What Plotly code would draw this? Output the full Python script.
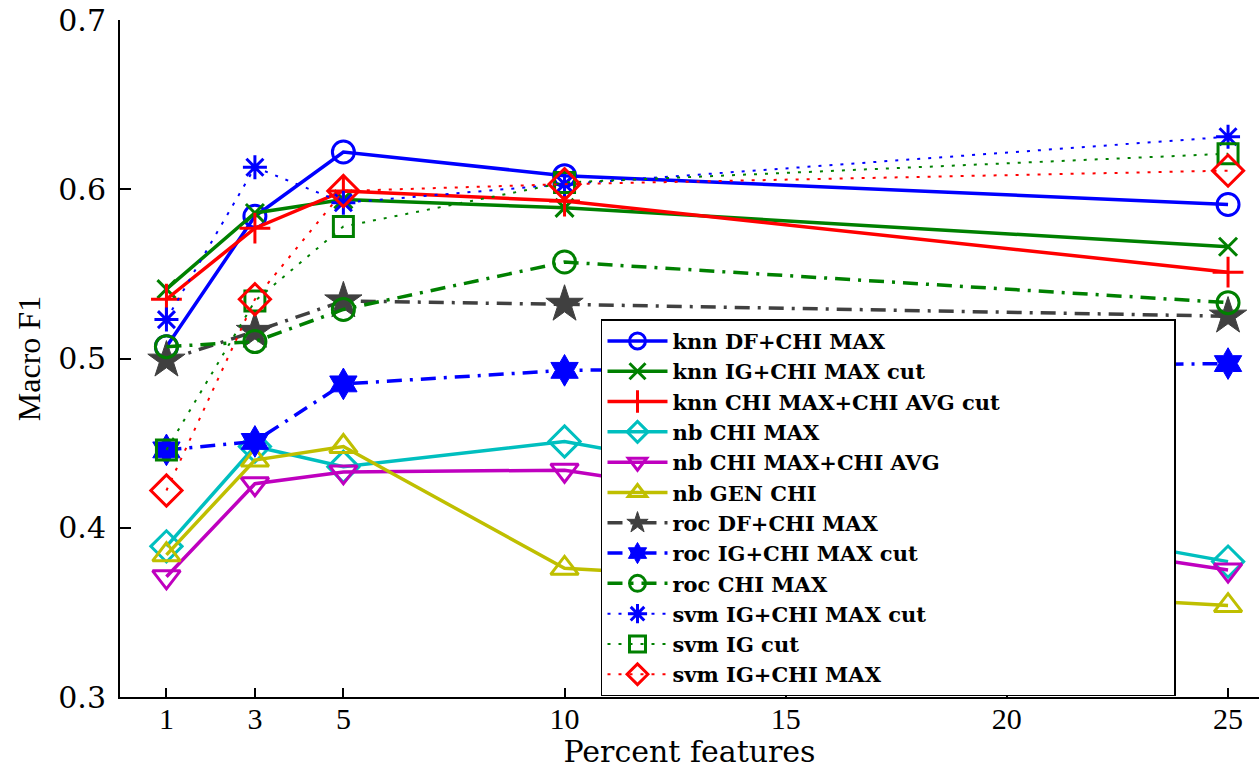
import plotly.graph_objects as go

# ---- data ----
x_percent = [1, 3, 5, 10, 25]

knn_df_chi_max = [0.507, 0.584, 0.622, 0.608, 0.591]
knn_ig_chi_max_cut = [0.541, 0.586, 0.594, 0.589, 0.566]
knn_chi_max_chi_avg_cut = [0.535, 0.577, 0.599, 0.593, 0.551]
nb_chi_max = [0.389, 0.448, 0.436, 0.451, 0.380]
nb_chi_max_chi_avg = [0.371, 0.426, 0.433, 0.434, 0.375]
nb_gen_chi = [0.384, 0.440, 0.448, 0.376, 0.354]
roc_df_chi_max = [0.499, 0.516, 0.534, 0.532, 0.525]
roc_ig_chi_max_cut = [0.446, 0.451, 0.485, 0.493, 0.497]
roc_chi_max = [0.507, 0.510, 0.529, 0.557, 0.533]
svm_ig_chi_max_cut = [0.523, 0.613, 0.592, 0.603, 0.631]
svm_ig_cut = [0.446, 0.534, 0.578, 0.604, 0.621]
svm_ig_chi_max = [0.422, 0.535, 0.599, 0.603, 0.611]

x_ticks = [1, 3, 5, 10, 15, 20, 25]
y_ticks = [0.3, 0.4, 0.5, 0.6, 0.7]
y_tick_labels = ["0.3", "0.4", "0.5", "0.6", "0.7"]

BLUE = "#0000FF"
GREEN = "#008000"
RED = "#FF0000"
CYAN = "#00BFBF"
MAGENTA = "#BF00BF"
YELLOW = "#BFBF00"
GRAY = "#404040"

DASHDOT = "15px,8px,3px,8px"
DOT = "3px,8px"

series = [
    ("knn DF+CHI MAX", knn_df_chi_max, BLUE, "solid", 3.5, "circle-open", 22, BLUE),
    ("knn IG+CHI MAX cut", knn_ig_chi_max_cut, GREEN, "solid", 3.5, "x-thin-open", 18, GREEN),
    ("knn CHI MAX+CHI AVG cut", knn_chi_max_chi_avg_cut, RED, "solid", 3.5, "cross-thin-open", 22, RED),
    ("nb CHI MAX", nb_chi_max, CYAN, "solid", 3.5, "diamond-open", 24, CYAN),
    ("nb CHI MAX+CHI AVG", nb_chi_max_chi_avg, MAGENTA, "solid", 3.5, "triangle-down-open", 24, MAGENTA),
    ("nb GEN CHI", nb_gen_chi, YELLOW, "solid", 3.5, "triangle-up-open", 24, YELLOW),
    ("roc DF+CHI MAX", roc_df_chi_max, GRAY, DASHDOT, 3.5, "star", 28, GRAY),
    ("roc IG+CHI MAX cut", roc_ig_chi_max_cut, BLUE, DASHDOT, 3.5, "hexagram", 24, BLUE),
    ("roc CHI MAX", roc_chi_max, GREEN, DASHDOT, 3.5, "circle-open", 22, GREEN),
    ("svm IG+CHI MAX cut", svm_ig_chi_max_cut, BLUE, DOT, 2, "asterisk-open", 20, BLUE),
    ("svm IG cut", svm_ig_cut, GREEN, DOT, 2, "square-open", 20, GREEN),
    ("svm IG+CHI MAX", svm_ig_chi_max, RED, DOT, 2, "diamond-open", 24, RED),
]

fig = go.Figure()
for name, vals, color, dash, lw, sym, size, mcolor in series:
    filled = not sym.endswith("-open")
    fig.add_trace(go.Scatter(
        x=x_percent, y=vals, name=name, mode="lines+markers",
        line=dict(color=color, width=lw, dash=dash),
        marker=dict(symbol=sym, size=size, color=mcolor,
                    line=dict(color=mcolor, width=1 if filled else 3)),
    ))

fig.update_layout(
    width=1259, height=769,
    margin=dict(l=120, r=0, t=20, b=72, autoexpand=False),
    paper_bgcolor="white", plot_bgcolor="white",
    showlegend=True,
    legend=dict(
        orientation="h",
        entrywidth=497, entrywidthmode="pixels",
        itemwidth=60,
        x=0.4223, xanchor="left", y=0.001, yanchor="bottom",
        bgcolor="white", bordercolor="black", borderwidth=1.5,
        font=dict(family="DejaVu Serif", size=21, color="black", weight="bold"),
        traceorder="normal",
    ),
    xaxis=dict(
        range=[-0.05, 25.7], tickmode="array", tickvals=x_ticks,
        ticktext=[str(v) for v in x_ticks],
        showline=True, linecolor="black", linewidth=2,
        ticks="inside", ticklen=9, tickwidth=1.5, tickcolor="black",
        showgrid=False, zeroline=False, mirror=False,
        tickfont=dict(family="Liberation Serif", size=30, color="black"),
        ticklabelstandoff=-6,
        title=dict(text="Percent features", standoff=3,
                   font=dict(family="DejaVu Serif", size=30, color="black")),
        automargin=False,
    ),
    yaxis=dict(
        range=[0.3, 0.7], tickmode="array", tickvals=y_ticks, ticktext=y_tick_labels,
        showline=True, linecolor="black", linewidth=2,
        ticks="inside", ticklen=11, tickwidth=1.5, tickcolor="black",
        showgrid=False, zeroline=False, mirror=False,
        tickfont=dict(family="DejaVu Serif", size=30, color="black"),
        ticklabelstandoff=6,
        title=dict(text="Macro F1", standoff=8,
                   font=dict(family="Liberation Serif", size=32, color="black")),
        automargin=False,
    ),
)

fig.write_html("out.html")
